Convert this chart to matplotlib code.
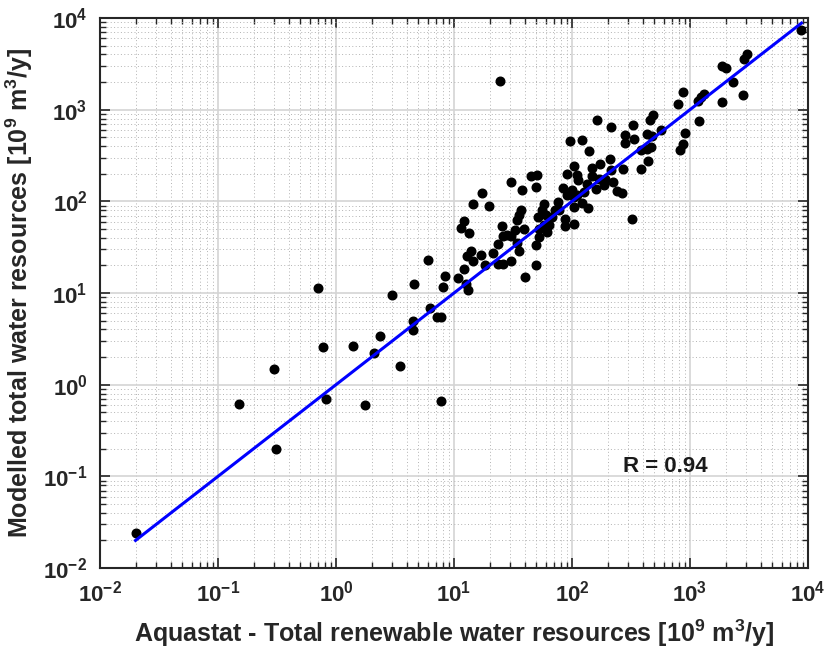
import matplotlib
matplotlib.use("Agg")
import matplotlib.pyplot as plt
from matplotlib.ticker import FixedLocator, NullFormatter, LogFormatterSciNotation

plt.rcParams['font.family'] = ['Liberation Sans', 'DejaVu Sans']
plt.rcParams['font.weight'] = 'bold'
plt.rcParams['mathtext.fontset'] = 'custom'
plt.rcParams['mathtext.rm'] = 'Liberation Sans:bold'
plt.rcParams['mathtext.bf'] = 'Liberation Sans:bold'
plt.rcParams['mathtext.default'] = 'bf'

# Aquastat total renewable water resources [10^9 m3/y]
aquastat = [
    0.020, 0.15, 0.31, 0.30, 0.70, 0.78, 0.83, 1.39, 1.77, 2.08, 2.37, 3.0, 3.5,
    4.5, 4.5, 4.6, 6.0, 6.3, 7.2, 7.76, 7.7,
    8.1, 8.4, 10.8, 12.2, 12.6, 13.2, 12.9, 14.0, 14.6, 16.8, 18.4, 21.5, 23.7,
    23.5, 26.0, 30.4, 35.6, 34.5, 40.2, 49.5, 49.3, 11.5, 12.1, 13.4, 14.4, 17.2,
    19.9, 25.5, 26.2, 28.3, 30.4, 33.1, 34.0, 35.3, 37.2, 39.2, 30.2, 37.7, 45.2,
    50.8, 49.5, 52.8, 52.8, 51.2, 57.5, 56.0, 60.2, 58.2, 61.8, 64.3, 67.3, 71.8,
    76.1, 77.1, 86.7, 86.7, 90.2, 84.7, 90.2,
    164, 214, 96, 122, 140, 173, 208, 147, 104, 110, 112, 148, 168, 190, 214, 269,
    100, 133, 161, 187, 223, 241, 263, 104, 110, 126, 121, 103, 137, 103, 322,
    281, 281, 331, 335, 388, 432, 467, 441, 384, 428, 472, 486, 458, 568, 791,
    867, 907, 878, 823, 1160, 1240, 1310, 1200, 1860, 1870, 2010, 2330, 2830,
    2870, 3030, 8800, 24.5,
]

# Modelled total water resources [10^9 m3/y]
modelled = [
    0.024, 0.61, 0.20, 1.5, 11.3, 2.6, 0.70, 2.65, 0.60, 2.2, 3.4, 9.6, 1.6,
    4.9, 3.9, 12.5, 23, 6.8, 5.5, 5.45, 0.66,
    11.6, 15.3, 14.6, 18.1, 12.6, 10.9, 25.3, 28.7, 22.1, 26.2, 20.4, 27.5, 33.9,
    20.9, 20.5, 22.2, 28.4, 35.4, 14.9, 20.2, 33.0, 51.5, 61.4, 44.7, 94, 123,
    89, 53.8, 41.4, 42.5, 41.9, 48.2, 62.5, 70.2, 81, 50.3, 162, 133, 187,
    195, 145, 40.8, 50.3, 66.7, 94, 79.6, 70.2, 55.6, 46.3, 55.6, 67.4, 81,
    98, 79.6, 64.6, 53.3, 116, 141, 200,
    776, 651, 458, 470, 350, 254, 292, 231, 241, 192, 170, 188, 176, 176, 218, 225,
    134, 156, 137, 152, 162, 131, 122, 111, 118, 128, 96.5, 86.7, 84.5, 57, 64.6,
    523, 436, 673, 473, 361, 375, 391, 274, 223, 539, 513, 880, 776, 596, 1150,
    1570, 553, 425, 359, 1250, 1390, 1490, 747, 1220, 2990, 2840, 1990, 1430,
    3530, 4020, 7430, 2080,
]

decades = [-2, -1, 0, 1, 2, 3, 4]
r_text = "R = 0.94"
x_label = r"Aquastat - Total renewable water resources [10$^9$ m$^3$/y]"
y_label = r"Modelled total water resources [10$^9$ m$^3$/y]"

fig = plt.figure(figsize=(8.25, 6.52), dpi=100)
ax = fig.add_axes([0.1212, 0.1288, 0.8582, 0.8436])
ax.set_xscale('log')
ax.set_yscale('log')
ax.set_xlim(10.0 ** decades[0], 10.0 ** decades[-1])
ax.set_ylim(10.0 ** decades[0], 10.0 ** decades[-1])

major = [10.0 ** e for e in decades]
minor = [m * 10.0 ** e for e in decades[:-1] for m in range(2, 10)]

ax.grid(True, which='major', color='#d4d4d4', linestyle='-', linewidth=1.2)
ax.grid(True, which='minor', color='#b3b3b3', linestyle=(0, (1, 2.5)), linewidth=0.7)
ax.set_axisbelow(True)

ax.plot(aquastat, modelled, 'o', color='black', markersize=6.2, linestyle='none', zorder=3)
lo, hi = min(aquastat), max(aquastat)
ax.plot([lo, hi], [lo, hi], color='#0000ff', linewidth=2.2, zorder=4)

ax.text(0.798, 0.185, r_text, transform=ax.transAxes, ha='center', va='center',
        fontsize=16, fontweight='bold', color='#1a1a1a')

for a in (ax.xaxis, ax.yaxis):
    a.set_major_locator(FixedLocator(major))
    a.set_major_formatter(LogFormatterSciNotation())
    a.set_minor_locator(FixedLocator(minor))
    a.set_minor_formatter(NullFormatter())
ax.tick_params(which='both', direction='in', top=True, right=True, colors='#262626')
ax.tick_params(which='major', length=7, width=1.2, labelsize=16, pad=9)
ax.tick_params(which='minor', length=4, width=1.0)
for s in ax.spines.values():
    s.set_color('#262626')
    s.set_linewidth(1.5)

ax.set_xlabel(x_label, fontsize=18, fontweight='bold', color='#262626', labelpad=8)
ax.set_ylabel(y_label, fontsize=18, fontweight='bold', color='#262626', labelpad=6)

fig.savefig('out.png', dpi=100)
